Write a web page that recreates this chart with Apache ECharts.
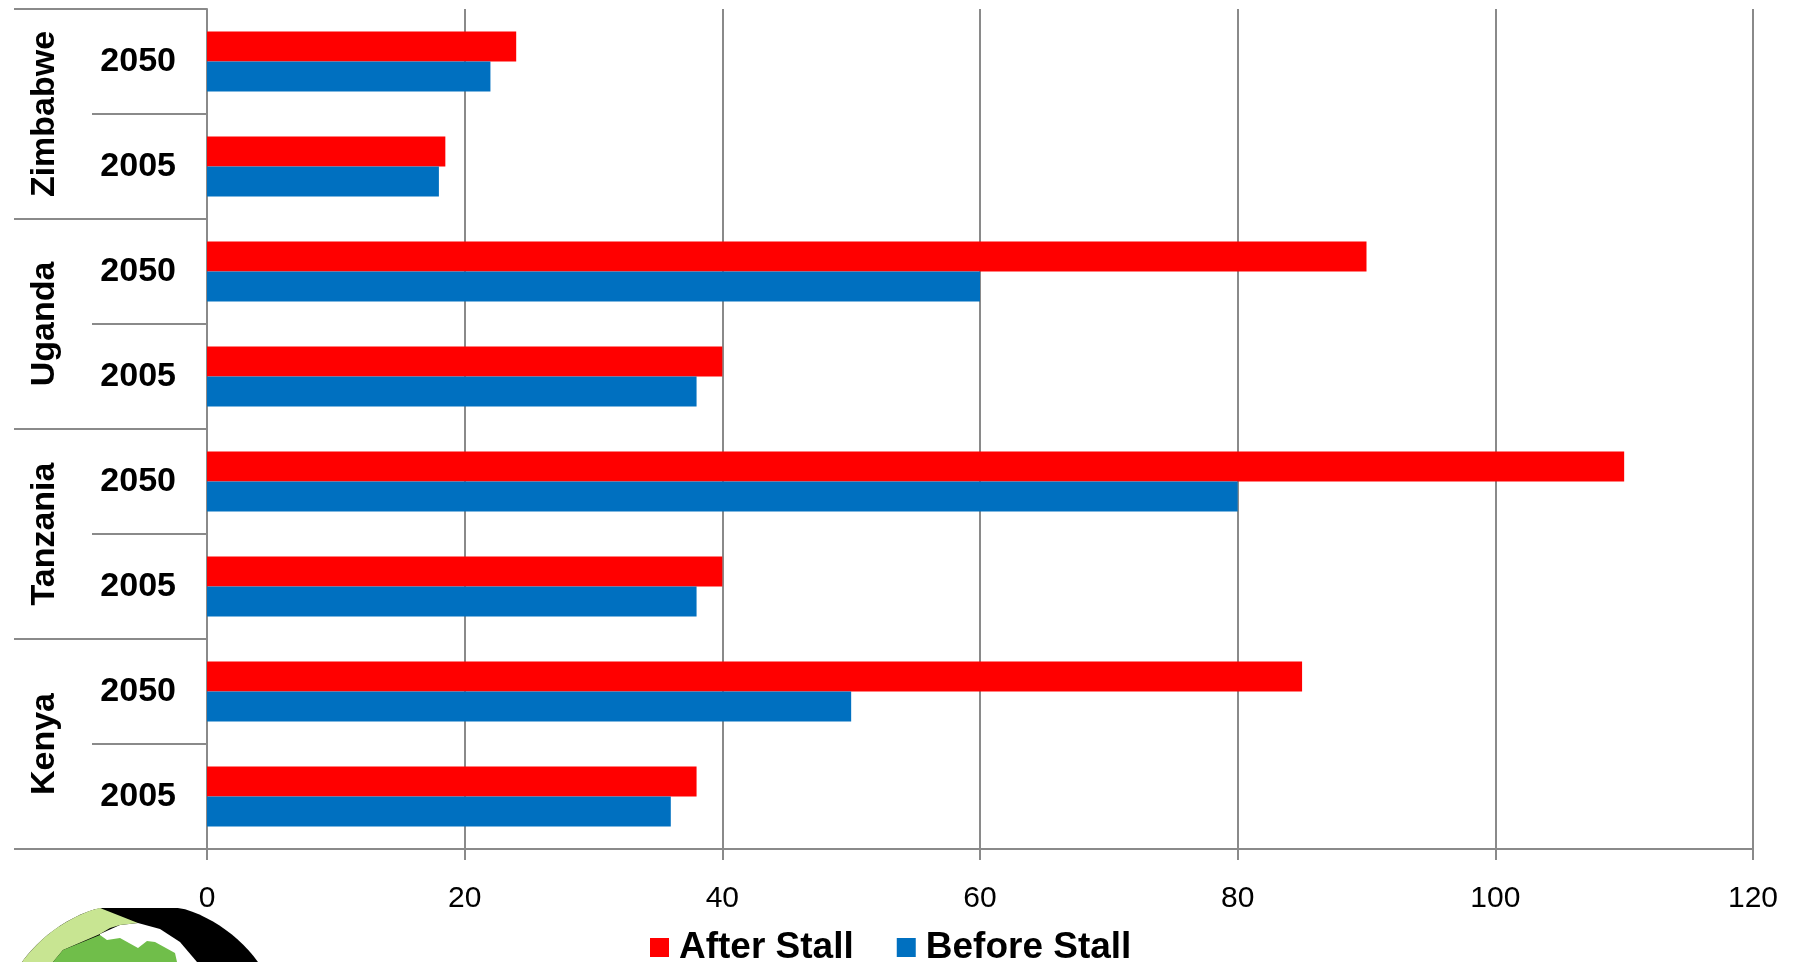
<!DOCTYPE html>
<html>
<head>
<meta charset="utf-8">
<script src="https://cdn.jsdelivr.net/npm/echarts@6/dist/echarts.min.js"></script>
<style>
  html, body { margin: 0; padding: 0; background: #ffffff; }
  #chart { width: 1796px; height: 962px; }
</style>
</head>
<body>
<div id="chart"></div>
<script>
// Categories, bottom to top: each country has a 2005 and a 2050 row
const years = ['2005', '2050', '2005', '2050', '2005', '2050', '2005', '2050'];
const countries = ['Kenya', 'Tanzania', 'Uganda', 'Zimbabwe'];

// Population values (millions)
const afterStall = [38, 85, 40, 110, 40, 90, 18.5, 24];
const beforeStall = [36, 50, 38, 80, 38, 60, 18, 22];

// Value axis range
const xMin = 0;
const xMax = 120;
const xStep = 20;

const FONT = '"Liberation Sans", Arial, sans-serif';
const GRAY = '#8a8a8a';

// Emblem in the lower-left corner (decorative)
function circlePts(cx, cy, r, a0, a1, n, clampTop) {
  const pts = [];
  for (let i = 0; i <= n; i++) {
    const a = a0 + (a1 - a0) * i / n;
    let y = cy + r * Math.sin(a);
    if (clampTop !== undefined) y = Math.max(y, clampTop);
    pts.push([cx + r * Math.cos(a), y]);
  }
  return pts;
}
const LC = { cx: 140, cy: 1048, r: 146, top: 908 };
const outerRing = circlePts(LC.cx, LC.cy, LC.r, 0, Math.PI * 2, 120, LC.top);
const aStart = Math.atan2(908 - LC.cy, 100 - LC.cx);
const greenRing = circlePts(LC.cx, LC.cy, LC.r, aStart, -Math.PI * 1.5, 80, LC.top)
  .concat([[30, 1000], [45, 975], [53, 962], [63, 950], [100, 934], [110, 928], [120, 925], [138, 923], [100, 908]]);
const innerWhite = [[120, 925], [138, 923], [160, 929], [180, 942], [197, 962], [205, 990], [100, 990], [100, 934]];
const hills = [[45, 975], [53, 962], [63, 950], [100, 935], [107, 940], [120, 938], [138, 948], [147, 941],
  [155, 942], [175, 953], [177, 962], [178, 990], [45, 990]];

const chart = echarts.init(document.getElementById('chart'), null, { renderer: 'canvas' });

chart.setOption({
  animation: false,
  backgroundColor: '#ffffff',
  textStyle: { fontFamily: FONT },
  grid: { left: 207, right: 43, top: 9, bottom: 113, containLabel: false },
  legend: {
    data: ['After Stall', 'Before Stall'],
    left: 650,
    top: 929,
    padding: 0,
    itemWidth: 19,
    itemHeight: 19,
    itemGap: 43,
    icon: 'rect',
    textStyle: { fontFamily: FONT, fontSize: 37, fontWeight: 'bold', color: '#000', padding: [0, 0, 0, 5] }
  },
  xAxis: {
    type: 'value',
    min: xMin,
    max: xMax,
    interval: xStep,
    axisLine: { show: true, lineStyle: { color: GRAY, width: 2 } },
    axisTick: { show: true, length: 11, lineStyle: { color: GRAY, width: 2 } },
    splitLine: { show: true, lineStyle: { color: GRAY, width: 2 } },
    axisLabel: { fontFamily: FONT, fontSize: 30, color: '#000', margin: 35 }
  },
  yAxis: [
    {
      type: 'category',
      data: years,
      position: 'left',
      axisLine: { show: true, lineStyle: { color: GRAY, width: 2 } },
      axisTick: { show: true, interval: 0, length: 115, lineStyle: { color: GRAY, width: 2 } },
      axisLabel: {
        interval: 0, fontFamily: FONT, fontSize: 34, fontWeight: 'bold', color: '#000',
        margin: 31, padding: [9, 0, 0, 0]
      }
    },
    {
      type: 'category',
      data: countries,
      position: 'left',
      offset: 0,
      axisLine: { show: false },
      axisTick: { show: true, interval: 0, length: 193, lineStyle: { color: GRAY, width: 2 } },
      axisLabel: { interval: 0, rotate: 90, fontFamily: FONT, fontSize: 34, fontWeight: 'bold', color: '#000', margin: 145 }
    }
  ],
  series: [
    {
      name: 'After Stall',
      type: 'bar',
      yAxisIndex: 0,
      data: afterStall,
      barWidth: 30,
      barGap: '0%',
      itemStyle: { color: '#ff0000' }
    },
    {
      name: 'Before Stall',
      type: 'bar',
      yAxisIndex: 0,
      data: beforeStall,
      barWidth: 30,
      barGap: '0%',
      itemStyle: { color: '#0070c0' }
    }
  ],
  graphic: [
    { type: 'polygon', silent: true, shape: { points: outerRing }, style: { fill: '#000000' } },
    { type: 'polygon', silent: true, shape: { points: innerWhite }, style: { fill: '#ffffff' } },
    { type: 'polygon', silent: true, shape: { points: greenRing }, style: { fill: '#c8e592' } },
    { type: 'polygon', silent: true, shape: { points: hills }, style: { fill: '#70be4a' } }
  ]
});
</script>
</body>
</html>
